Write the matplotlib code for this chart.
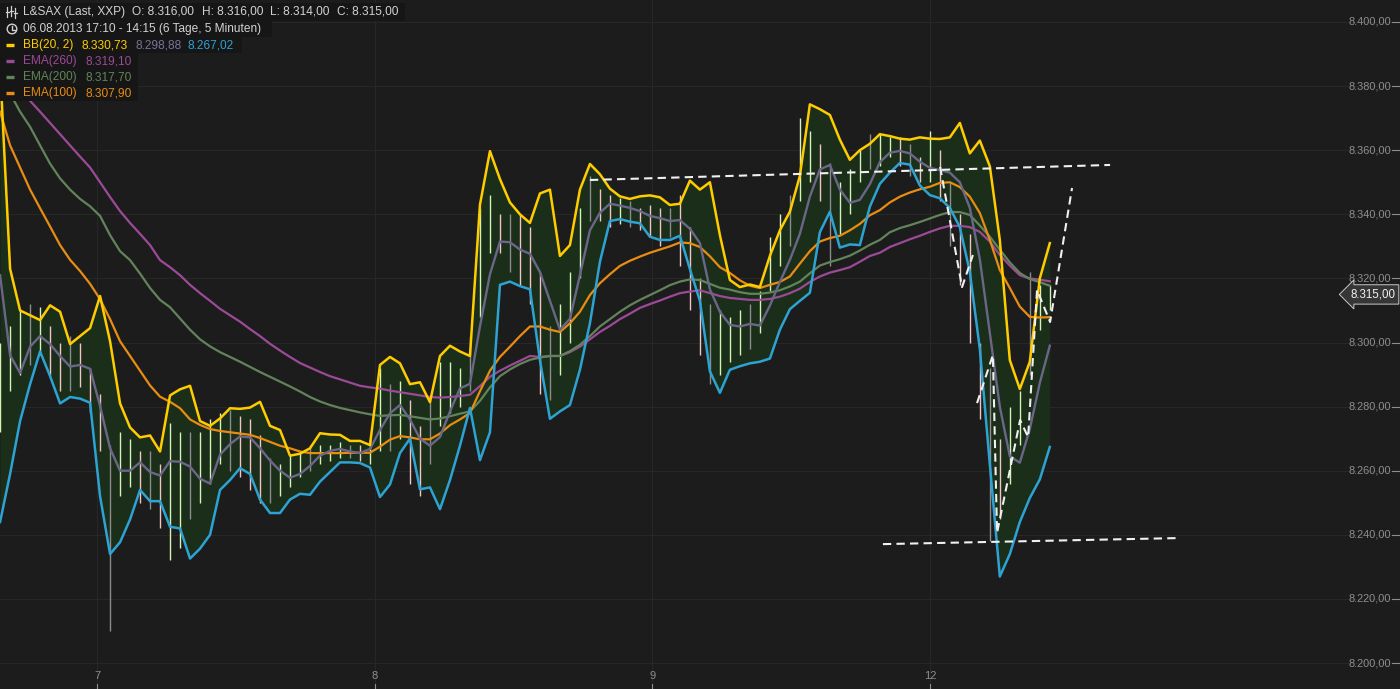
import numpy as np
import matplotlib.pyplot as plt
from matplotlib.patches import Rectangle, Circle
from matplotlib.transforms import blended_transform_factory

# L&SAX, 5-minute bars, 06.08.2013 17:10 - 12.08.2013 14:15
# one reading every 10 px of the original chart (about 0.036 trading day)
T0 = -0.349      # first sample, in trading days from the "7" tick
STEP = 0.036

bb_upper = [8386, 8323, 8310, 8308.5, 8307, 8311.6, 8309.6, 8299.5, 8302, 8304.5,
            8314.5, 8300.4, 8281, 8273.5, 8270.4, 8271, 8266, 8283.5, 8285.4, 8286.5,
            8275.5, 8274, 8276.3, 8279.5, 8279.3, 8279.7, 8281.5, 8274, 8272.7, 8264.7,
            8265.3, 8267, 8271.7, 8271.3, 8271.2, 8269.3, 8269.3, 8268, 8293, 8295.5,
            8293.5, 8287, 8287.6, 8281.4, 8295.8, 8299, 8297.2, 8295.8, 8343, 8359.7,
            8351, 8343.7, 8340, 8337.3, 8346.5, 8347.7, 8327, 8330.4, 8347.7, 8355.7,
            8352.5, 8348, 8345.6, 8344.8, 8345.6, 8345.9, 8345.3, 8342.9, 8343.3, 8350.5,
            8347.7, 8350, 8333.5, 8319.5, 8317.3, 8318.1, 8317.3, 8327, 8335, 8340.8,
            8352, 8374.3, 8372.8, 8371, 8363.3, 8357, 8360, 8362, 8365, 8364.4,
            8363.6, 8363.3, 8364, 8363.6, 8363.5, 8364, 8368.5, 8359, 8363, 8355,
            8332, 8294.5, 8285.5, 8294, 8320, 8331]
bb_mid = [8321, 8296, 8290.5, 8298.7, 8302, 8299.5, 8295.8, 8292.5, 8293, 8291.8,
          8280.2, 8267, 8260, 8260, 8262.6, 8259.6, 8258.5, 8263, 8262.8, 8261.3,
          8257.5, 8256, 8265, 8268.3, 8270.7, 8270.4, 8267, 8263.2, 8260, 8257.8,
          8259, 8261.5, 8264.7, 8266.2, 8266.8, 8266, 8265.5, 8266.8, 8272.7, 8277.9,
          8280.5, 8276, 8270, 8267.8, 8270.5, 8278.5, 8285.7, 8287.1, 8305, 8321.3,
          8331.5, 8331.3, 8329, 8327.7, 8322, 8313, 8304, 8307.4, 8321, 8335,
          8340.5, 8343.3, 8342.7, 8342, 8341, 8339.5, 8338.8, 8337.9, 8338.2, 8335.5,
          8331, 8316.6, 8309.6, 8305.5, 8305, 8305.8, 8305.3, 8311.5, 8318.9, 8325.8,
          8333.9, 8345.5, 8354, 8355.4, 8347.7, 8343.6, 8344.5, 8349.4, 8356.3, 8359.2,
          8359.8, 8359, 8356.4, 8354.5, 8353.8, 8353, 8350, 8342, 8326, 8303,
          8280, 8264.5, 8262.5, 8273, 8287.4, 8299]
bb_lower = [8244, 8259, 8275.5, 8287, 8297.2, 8289.5, 8281, 8283, 8282.5, 8281.2,
            8252, 8234, 8237.7, 8244.8, 8254, 8250.5, 8250.5, 8242.5, 8242, 8232.6,
            8235.7, 8240, 8254, 8257.1, 8260.8, 8259, 8251, 8246.8, 8246.8, 8251,
            8252.8, 8252.5, 8256.6, 8259.6, 8262.6, 8262.6, 8262.4, 8261, 8251.8, 8255.7,
            8265.5, 8270, 8254.2, 8254.8, 8248, 8257.1, 8267.8, 8279.6, 8263.3, 8272,
            8318, 8319, 8317.6, 8316.6, 8294.5, 8276.2, 8278.5, 8280.5, 8291.5, 8306,
            8325.2, 8337.9, 8338.5, 8337.7, 8337.2, 8333, 8332, 8332, 8333.3, 8322.9,
            8313, 8291, 8284.3, 8291.5, 8292.6, 8293.5, 8294, 8295, 8304, 8310.4,
            8313, 8315.5, 8334.4, 8340.8, 8329.6, 8330.6, 8330.4, 8342.4, 8349.5, 8353,
            8356, 8355.5, 8349, 8346, 8345, 8342, 8336, 8322, 8298, 8262,
            8227, 8234, 8244, 8251.5, 8257.3, 8267.4]
ema100 = [8372, 8361.5, 8354.6, 8347.7, 8341.9, 8336.2, 8330.4, 8325.8, 8322.3, 8318.3,
          8313.5, 8307.3, 8300.4, 8295.8, 8291.2, 8286.6, 8283.1, 8281.5, 8279.5, 8276,
          8274.3, 8273, 8272.4, 8272, 8271.6, 8271.2, 8270.2, 8269, 8267.8, 8267,
          8266, 8265.5, 8265.5, 8265.5, 8265.5, 8265.6, 8265.6, 8265.6, 8267.5, 8269.7,
          8270.8, 8270.4, 8269.8, 8269.8, 8271.6, 8274.2, 8276, 8278, 8284.8, 8291.2,
          8295.5, 8298.7, 8302, 8305, 8305, 8304, 8303.3, 8306, 8309.6, 8314.8,
          8318.5, 8321.3, 8323.9, 8325.5, 8326.8, 8328, 8329, 8330, 8331.2, 8331,
          8329.8, 8326.9, 8323.5, 8321.7, 8319.4, 8317.7, 8317, 8318, 8318.9, 8320.6,
          8324.6, 8328.5, 8331.5, 8332.6, 8333.3, 8335, 8337, 8339.7, 8341.3, 8343.7,
          8345.5, 8346.8, 8347.8, 8348.6, 8349.8, 8350, 8348.5, 8345.5, 8340.4, 8332,
          8322.6, 8317, 8311.2, 8308, 8307.8, 8307.9]
ema200 = [8384, 8377.7, 8372, 8367.3, 8361.5, 8355.8, 8351.2, 8347.7, 8344.8, 8342.5,
          8339.5, 8333.5, 8328.5, 8325.7, 8321.5, 8317, 8313.3, 8311, 8307.5, 8304,
          8301, 8298.8, 8297, 8295.5, 8294, 8292.4, 8290.8, 8289.3, 8287.8, 8286.3,
          8284.7, 8283, 8281.6, 8280.5, 8279.6, 8278.9, 8278.2, 8277.6, 8277.1, 8277.3,
          8277.4, 8277, 8276.5, 8276, 8276.3, 8277, 8277.8, 8278.5, 8281.8, 8286,
          8289.5, 8291.6, 8293.3, 8294.6, 8295.3, 8295.8, 8295.8, 8297.3, 8299.3, 8302,
          8305, 8307.3, 8309.6, 8311.6, 8313.3, 8314.8, 8316.3, 8317.9, 8319, 8319.7,
          8319.5, 8318.3, 8317.1, 8316.5, 8315.7, 8315.2, 8315.2, 8315.6, 8316.3, 8317.5,
          8319, 8321.6, 8324, 8325.1, 8326, 8327.1, 8328.7, 8330.5, 8332, 8334.4,
          8335.7, 8336.6, 8337.6, 8338.7, 8339.8, 8340.7, 8340.7, 8339.8, 8336.5, 8333,
          8329, 8325, 8321.7, 8319.8, 8318.8, 8317.7]
ema260 = [8388, 8383.5, 8379.5, 8375.4, 8372, 8368.5, 8365, 8361.5, 8358, 8354.6,
          8350, 8345.4, 8341, 8337.3, 8333.9, 8330.4, 8325.7, 8323.5, 8321, 8318,
          8315.4, 8313, 8310.5, 8308.5, 8306.5, 8304.2, 8302, 8299.6, 8297.5, 8295.5,
          8293.6, 8292.2, 8290.8, 8289.5, 8288.5, 8287.5, 8286.5, 8286, 8285.6, 8285,
          8284.5, 8284, 8283.5, 8283, 8282.8, 8283, 8283.3, 8283.7, 8286.4, 8289.3,
          8291.2, 8292.8, 8294.3, 8295.8, 8295.5, 8295.8, 8295.8, 8297, 8298.7, 8301,
          8303.3, 8305.2, 8307.3, 8309, 8310.8, 8312, 8313.1, 8314.3, 8315.4, 8315.9,
          8316.3, 8315.4, 8314.5, 8313.9, 8313.6, 8313.3, 8313.3, 8313.6, 8314.3, 8315.4,
          8316.8, 8318.9, 8320.6, 8321.8, 8322.6, 8323.5, 8325.2, 8327, 8328, 8329.8,
          8331, 8332.2, 8333.3, 8334.5, 8335.6, 8336.4, 8336.4, 8336, 8334.5, 8331.5,
          8327.3, 8324, 8321, 8320, 8319.6, 8319.1]
bar_low = [8272, 8285, 8290, 8293, 8296, 8290, 8285, 8285, 8286, 8278,
           8266, 8210, 8252, 8255, 8250, 8248, 8242, 8232, 8236, 8245,
           8250, 8256, 8262, 8260, 8258, 8254, 8250, 8250, 8252, 8255,
           8258, 8260, 8262, 8263, 8264, 8264, 8263, 8262, 8266, 8266,
           8270, 8256, 8252, 8262, 8274, 8278, 8280, 8285, 8308, 8328,
           8328, 8322, 8318, 8312, 8284, 8282, 8290, 8300, 8320, 8338,
           8338, 8336, 8337, 8336, 8335, 8333, 8330, 8333, 8324, 8310,
           8296, 8287, 8290, 8294, 8296, 8298, 8303, 8316, 8324, 8330,
           8344, 8350, 8344, 8324, 8334, 8340, 8350, 8354, 8355, 8358,
           8355, 8352, 8350, 8350, 8344, 8330, 8318, 8300, 8276, 8238,
           8245, 8256, 8268, 8290, 8304, 8310]
bar_high = [8300, 8305, 8310, 8312, 8311, 8305, 8300, 8302, 8300, 8292,
            8284, 8268, 8272, 8270, 8266, 8266, 8262, 8275, 8272, 8272,
            8272, 8276, 8278, 8279, 8277, 8276, 8271, 8264, 8262, 8265,
            8266, 8268, 8268, 8268, 8269, 8268, 8268, 8270, 8292, 8287,
            8288, 8282, 8274, 8282, 8294, 8294, 8292, 8302, 8342, 8346,
            8340, 8340, 8340, 8336, 8322, 8305, 8312, 8322, 8342, 8352,
            8348, 8346, 8345, 8344, 8342, 8343, 8342, 8342, 8346, 8336,
            8320, 8312, 8310, 8308, 8310, 8312, 8316, 8333, 8340, 8346,
            8370, 8366, 8362, 8356, 8350, 8354, 8360, 8365, 8365, 8364,
            8364, 8362, 8358, 8366, 8360, 8350, 8340, 8334, 8300, 8292,
            8270, 8280, 8285, 8322, 8318, 8318]

# hand drawn trend lines (day, price)
resistance = [(1.775, 8350.7), (3.648, 8355.4)]
support = [(2.830, 8237.1), (3.900, 8239.0)]
first_v = [(3.036, 8354.8), (3.115, 8317.3), (3.154, 8327.3)]
w_shape = [(3.169, 8281.1), (3.226, 8296.1), (3.241, 8240.6), (3.324, 8275.8),
           (3.353, 8270.5), (3.385, 8316.4), (3.432, 8306.4), (3.511, 8348.2)]

day_pos = [0, 1, 2, 3]
day_labels = ['7', '8', '9', '12']
price_ticks = list(range(8200, 8401, 20))
last_price = 8315.0

BG = '#1c1c1c'
GRID = '#272727'
TXT = '#8e8e8e'
YELLOW = '#ffcc00'
MID = '#6b6688'
BLUE = '#2ea2d2'
PURPLE = '#9c4a98'
GREEN = '#62845a'
ORANGE = '#e98c12'
FILL = '#1a2e1a'


def de(v):
    return f'{v:,.2f}'.replace(',', 'X').replace('.', ',').replace('X', '.')


t = T0 + STEP * np.arange(len(bb_upper))

fig = plt.figure(figsize=(14, 6.89), dpi=100, facecolor=BG)
ax = fig.add_axes([0, 0, 1, 1])
ax.set_facecolor(BG)
ax.set_xlim(-0.3493, 4.692)
ax.set_ylim(8191.9, 8406.86)
for s in ax.spines.values():
    s.set_visible(False)
ax.set_xticks(day_pos)
ax.set_yticks(price_ticks)
ax.tick_params(length=0, labelbottom=False, labelleft=False)
ax.grid(True, color=GRID, linewidth=0.8)
ax.set_axisbelow(True)

# Bollinger band area
ax.fill_between(t, bb_lower, bb_upper, color=FILL, linewidth=0, zorder=1)

# price bars
lo = np.array(bar_low)
hi = np.array(bar_high)
mid = (lo + hi) / 2
cols = ['#d4f4b4' if i == 0 or mid[i] >= mid[i - 1] else '#f2c4c4' for i in range(len(mid))]
cols = [c if i % 4 != 3 else '#8c8c8c' for i, c in enumerate(cols)]
ax.vlines(t, lo, hi, colors=cols, linewidth=1.0, zorder=2)

# moving averages and bands
ax.plot(t, ema260, color=PURPLE, lw=1.6, zorder=3)
ax.plot(t, ema200, color=GREEN, lw=1.6, zorder=3)
ax.plot(t, ema100, color=ORANGE, lw=1.6, zorder=3)
ax.plot(t, bb_mid, color=MID, lw=1.7, zorder=4)
ax.plot(t, bb_lower, color=BLUE, lw=1.8, zorder=4)
ax.plot(t, bb_upper, color=YELLOW, lw=1.8, zorder=5)

for line in (resistance, support, first_v, w_shape):
    xs, ys = zip(*line)
    ax.plot(xs, ys, color='#f0f0f0', lw=1.5, ls=(0, (4, 2.5)), zorder=6)

# axis labels drawn inside the plot
tr_y = blended_transform_factory(ax.transAxes, ax.transData)
for p in price_ticks:
    ax.text(0.9935, p, de(p), transform=tr_y, ha='right', va='center',
            color=TXT, fontsize=7.9, family='Liberation Sans')
    ax.plot([0.9945, 0.999], [p, p], transform=tr_y, color=TXT, lw=0.8)
tr_x = blended_transform_factory(ax.transData, ax.transAxes)
for d, lab in zip(day_pos, day_labels):
    ax.text(d, 0.019, lab, transform=tr_x, ha='center', va='center',
            color=TXT, fontsize=8, family='Liberation Sans')
    ax.plot([d, d], [0, 0.007], transform=tr_x, color=TXT, lw=0.8)

ax.text(0.9965, last_price, de(last_price), transform=tr_y, ha='right', va='center',
        color='#f2f2f2', fontsize=8.3, family='Liberation Sans', zorder=10,
        bbox=dict(boxstyle='larrow,pad=0.32', fc='#363636', ec='#c8c8c8', lw=0.7))

# legend block (pixel coordinates)
ov = fig.add_axes([0, 0, 1, 1])
ov.set_xlim(0, 1400)
ov.set_ylim(689, 0)
ov.axis('off')
ov.patch.set_alpha(0)
for x0, y0, w, h in [(0, 3, 405, 18), (0, 21, 272, 16), (0, 37, 242, 16), (0, 53, 138, 48)]:
    ov.add_patch(Rectangle((x0, y0), w, h, fc='#161616', ec='none'))

LT = '#d2d2d2'
kw = dict(va='center', ha='left', fontsize=8.6, family='Liberation Sans')
# row 1 icon
for xi, (a, b) in zip([7, 11, 15], [(7, 17), (6, 16), (8, 18)]):
    ov.plot([xi, xi], [a, b], color=LT, lw=0.9)
    ov.plot([xi - 1.5, xi + 1.5], [(a + b) / 2, (a + b) / 2], color=LT, lw=0.9)
ov.text(23, 12, 'L&SAX (Last, XXP)', color=LT, **kw)
ov.text(132, 12, 'O: 8.316,00', color=LT, **kw)
ov.text(202, 12, 'H: 8.316,00', color=LT, **kw)
ov.text(270, 12, 'L: 8.314,00', color=LT, **kw)
ov.text(337, 12, 'C: 8.315,00', color=LT, **kw)
# row 2 clock
ov.add_patch(Circle((12, 29), 4.8, fc='none', ec=LT, lw=1))
ov.plot([12, 12, 15], [26, 29.5, 29.5], color=LT, lw=1)
ov.text(23, 29, '06.08.2013 17:10 - 14:15 (6 Tage, 5 Minuten)', color=LT, **kw)
# indicator rows
rows = [(45, YELLOW, 'BB(20, 2)', [(81, '8.330,73', YELLOW), (135, '8.298,88', '#77739a'),
                                    (188, '8.267,02', BLUE)]),
        (61, PURPLE, 'EMA(260)', [(85, '8.319,10', PURPLE)]),
        (77, GREEN, 'EMA(200)', [(85, '8.317,70', GREEN)]),
        (93, ORANGE, 'EMA(100)', [(85, '8.307,90', ORANGE)])]
for y, c, name, vals in rows:
    ov.plot([6, 14], [y, y], color=c, lw=2.4, solid_capstyle='butt')
    ov.text(23, y, name, color=c, **kw)
    for x, s, vc in vals:
        ov.text(x, y, s, color=vc, **kw)

fig.savefig('out.png', dpi=100, facecolor=BG)
